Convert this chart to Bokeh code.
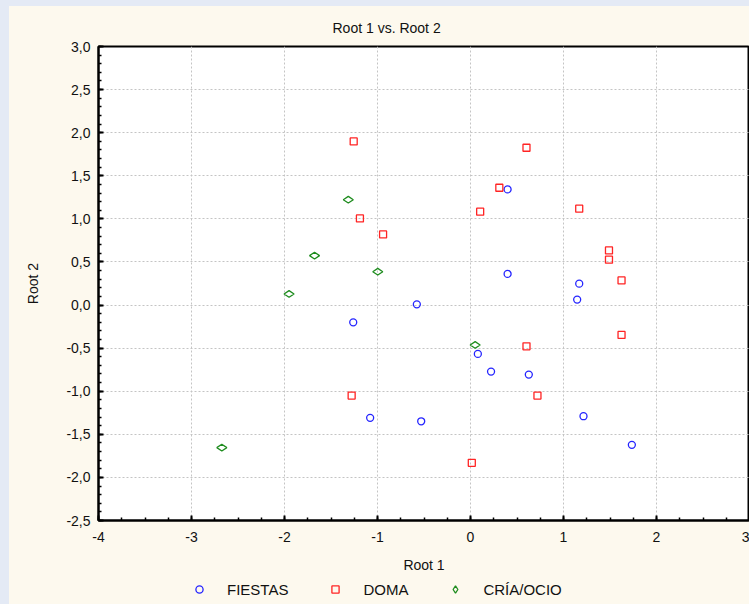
import math
from bokeh.plotting import figure
from bokeh.layouts import column
from bokeh.models import Range1d, SingleIntervalTicker, Legend, LegendItem
from bokeh.embed import file_html
from bokeh.resources import INLINE

title_text = "Root 1 vs. Root 2"
x_label = "Root 1"
y_label = "Root 2"

series_names = ["FIESTAS", "DOMA", "CRÍA/OCIO"]

fiestas_x = [0.399, 0.399, 1.169, 1.147, -0.577, -1.261, 0.079, 0.221, 0.627, -1.079, -0.530, 1.215, 1.735]
fiestas_y = [1.342, 0.361, 0.248, 0.063, 0.008, -0.201, -0.567, -0.772, -0.807, -1.309, -1.349, -1.290, -1.622]

doma_x = [-1.256, 0.602, 0.310, 0.104, 1.169, -1.189, -0.940, 1.489, 1.489, 1.624, 0.602, 1.624, -1.278, 0.720, 0.014]
doma_y = [1.898, 1.825, 1.361, 1.083, 1.118, 1.005, 0.820, 0.634, 0.526, 0.286, -0.479, -0.347, -1.051, -1.051, -1.831]

cria_x = [-1.314, -1.677, -0.997, -1.951, 0.050, -2.674]
cria_y = [1.222, 0.573, 0.387, 0.129, -0.463, -1.654]

x_ticks = [-4, -3, -2, -1, 0, 1, 2, 3]
x_tick_labels = ["-4", "-3", "-2", "-1", "0", "1", "2", "3"]
y_ticks = [-2.5, -2.0, -1.5, -1.0, -0.5, 0.0, 0.5, 1.0, 1.5, 2.0, 2.5, 3.0]
y_tick_labels = ["-2,5", "-2,0", "-1,5", "-1,0", "-0,5", "0,0", "0,5", "1,0", "1,5", "2,0", "2,5", "3,0"]

FONT = "Liberation Sans"
CREAM = "#fdf9ee"
BLUE_BG = "#e4eaf5"
colors = ["#2424ff", "#ff2424", "#1e8c1e"]

p = figure(width=740, height=572, output_backend="svg", toolbar_location=None,
           x_range=Range1d(x_ticks[0], x_ticks[-1]), y_range=Range1d(y_ticks[0], y_ticks[-1]),
           min_border_left=89, min_border_right=0, min_border_top=40, min_border_bottom=58,
           background_fill_color="white", border_fill_color=CREAM,
           x_axis_label=x_label, y_axis_label=y_label)

p.title.text = title_text
p.title.text_font = FONT
p.title.text_font_size = "14px"
p.title.text_font_style = "normal"
p.title.text_color = "#111111"
p.title.align = "left"
p.title.offset = 234
p.title.vertical_align = "top"
p.title.standoff = 18

p.outline_line_color = "black"
p.outline_line_width = 2

p.xaxis.ticker = SingleIntervalTicker(interval=1, num_minor_ticks=4)
p.yaxis.ticker = SingleIntervalTicker(interval=0.5, num_minor_ticks=5)
p.xaxis.major_label_overrides = {t: l for t, l in zip(x_ticks, x_tick_labels)}
p.yaxis.major_label_overrides = {t: l for t, l in zip(y_ticks, y_tick_labels)}

for ax in (p.xaxis[0], p.yaxis[0]):
    ax.axis_line_width = 2
    ax.axis_line_color = "black"
    ax.major_tick_in = 5
    ax.major_tick_out = 0
    ax.minor_tick_in = 3
    ax.minor_tick_out = 0
    ax.major_tick_line_width = 2
    ax.minor_tick_line_width = 1.5
    ax.major_label_text_font = FONT
    ax.major_label_text_font_size = "14px"
    ax.major_label_text_color = "#111111"
    ax.axis_label_text_font = FONT
    ax.axis_label_text_font_size = "14px"
    ax.axis_label_text_font_style = "normal"
    ax.axis_label_text_color = "#111111"
p.yaxis.major_label_standoff = 8
p.yaxis.axis_label_standoff = 22
p.xaxis.major_label_standoff = 11
p.xaxis.axis_label_standoff = 12

p.grid.grid_line_color = "#c4c4c4"
p.grid.grid_line_dash = "2 2"
p.grid.grid_line_width = 1

marker_specs = [dict(marker="circle", size=7), dict(marker="square", size=7),
                dict(marker="diamond", size=10, angle=math.pi / 2)]
series_xy = [(fiestas_x, fiestas_y), (doma_x, doma_y), (cria_x, cria_y)]

for (xs, ys), spec, c in zip(series_xy, marker_specs, colors):
    p.scatter(xs, ys, fill_color=None, line_color=c, line_width=1.3, **spec)

# legend strip below the chart (its own view range keeps the points out of sight)
lg = figure(width=740, height=26, output_backend="svg", toolbar_location=None,
            x_range=Range1d(10, 11), y_range=Range1d(10, 11), x_axis_type=None, y_axis_type=None,
            min_border=0, min_border_left=0, min_border_right=0, min_border_top=0, min_border_bottom=0,
            background_fill_color=CREAM, border_fill_color=CREAM, outline_line_color=None)
lg.grid.visible = False
items = []
for name, (xs, ys), spec, c in zip(series_names, series_xy, marker_specs, colors):
    r = lg.scatter(xs, ys, fill_color=None, line_color=c, line_width=1.3, **spec)
    items.append(LegendItem(label=name, renderers=[r]))

legend = Legend(items=items, orientation="horizontal", location=(92, 6),
                padding=0, margin=0, spacing=38, glyph_width=18, glyph_height=18,
                label_standoff=19, label_height=14,
                label_text_font=FONT, label_text_font_size="15px", label_text_color="#111111",
                background_fill_alpha=0, border_line_color=None)
lg.add_layout(legend)

layout = column(p, lg, spacing=0, styles={"background-color": CREAM})

html = file_html(layout, INLINE)
html = html.replace("</head>", "<style>html { background-color: %s !important; } body { background-color: %s !important; padding: 6px 0 0 9px !important; margin: 0 !important; }</style></head>" % (BLUE_BG, BLUE_BG), 1)
open("out.html", "w").write(html)
